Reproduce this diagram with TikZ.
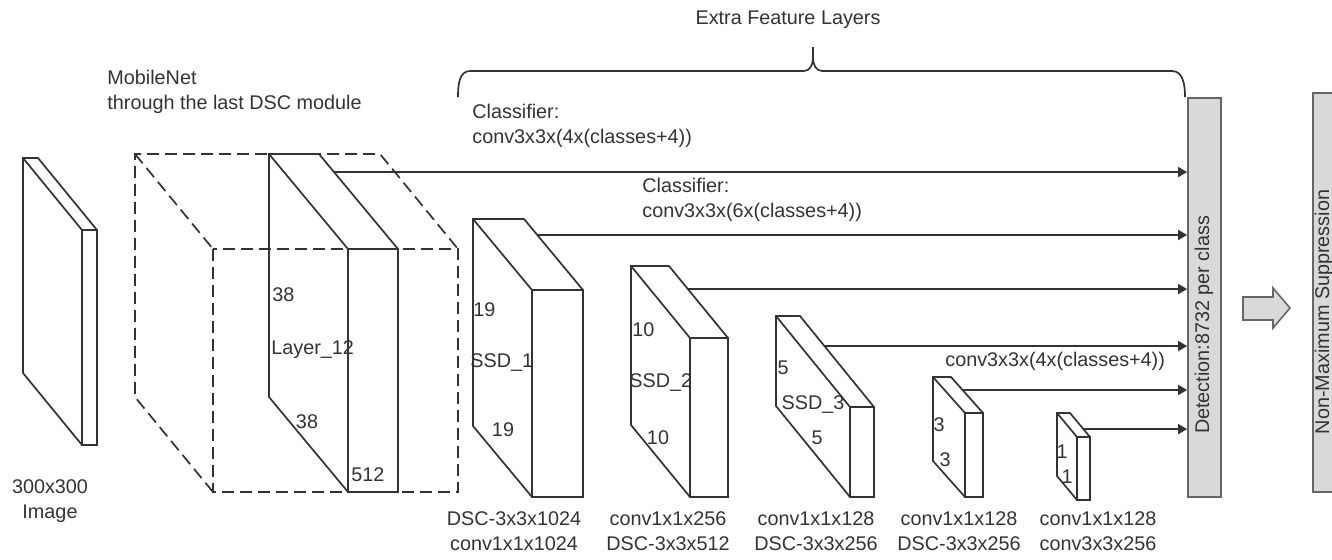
\documentclass[tikz,border=0pt]{standalone}
\usepackage{fontspec}
\setmainfont{Liberation Sans}
\usetikzlibrary{arrows.meta,calc}
\definecolor{ink}{HTML}{333333}
\definecolor{panel}{HTML}{D9D9D9}
\definecolor{rim}{HTML}{666666}
% feature map as a slab: name, style, front top-left x/y, front bottom-right x/y, depth dx/dy
\newcommand{\featmap}[8]{%
  \coordinate (#1-ftl) at (#3,#4);
  \coordinate (#1-ftr) at (#5,#4);
  \coordinate (#1-fbl) at (#3,#6);
  \coordinate (#1-fbr) at (#5,#6);
  \coordinate (#1-btl) at ({#3+(#7)},{#4+(#8)});
  \coordinate (#1-btr) at ({#5+(#7)},{#4+(#8)});
  \coordinate (#1-bbl) at ({#3+(#7)},{#6+(#8)});
  \draw[#2] (#1-ftl) rectangle (#1-fbr);
  \draw[#2] (#1-fbl) -- (#1-bbl) -- (#1-btl) -- (#1-btr) -- (#1-ftr);
  \draw[#2] (#1-btl) -- (#1-ftl);
}
\begin{document}
\begin{tikzpicture}[
  x=0.5pt, y=-0.5pt,
  font=\fontsize{9.9}{12.5}\selectfont,
  every node/.style={text=ink},
  edge/.style={draw=ink, line width=0.85pt},
  ghost/.style={edge, dash pattern=on 6pt off 3pt},
  lbl/.style={inner sep=0pt, anchor=west},
  num/.style={inner sep=0pt},
  caption/.style={inner sep=0pt, align=center},
  feed/.style={draw=ink, line width=0.85pt, -{Triangle[length=4.5pt,width=5pt]}},
  column/.style={draw=rim, fill=panel, line width=0.9pt, minimum width=16.5pt, minimum height=199.5pt, inner sep=0pt},
  bigarrow/.style={draw=rim, fill=panel, line width=0.8pt},
  brace/.style={draw=ink, line width=0.85pt}
]
\useasboundingbox (0,0) rectangle (1332,559);
\clip (0,0) rectangle (1332,559);

% input image
\featmap{img}{edge}{82}{230}{97}{445}{-59}{-72}
\node[caption] (imgcap) at (50,501) {300x300\\Image};

% MobileNet backbone
\featmap{mnet}{ghost}{213}{249}{458}{492}{-78}{-95}
\node[lbl, align=left] (mnetcap) at (107,92) {MobileNet\\through the last DSC module};

\featmap{l12}{edge}{348}{249}{398}{492}{-79}{-95}
\node[lbl] (l12-h) at (272,295) {38};
\node[lbl] (l12-name) at (271,350) {Layer\_12};
\node[num] (l12-w) at (307,422) {38};
\node[lbl] (l12-c) at (351,475) {512};

% extra feature layers
\featmap{ssd1}{edge}{532}{290}{583}{497}{-59}{-71}
\node[lbl] (ssd1-h) at (473,310) {19};
\node[lbl] (ssd1-name) at (470,363) {SSD\_1};
\node[num] (ssd1-w) at (503,430) {19};
\node[caption] (ssd1-cap) at (514,531) {DSC-3x3x1024\\conv1x1x1024};

\featmap{ssd2}{edge}{690}{338}{728}{497}{-59}{-72}
\node[lbl] (ssd2-h) at (632,330) {10};
\node[lbl] (ssd2-name) at (629,383) {SSD\_2};
\node[num] (ssd2-w) at (658,438) {10};
\node[caption] (ssd2-cap) at (668,531) {conv1x1x256\\DSC-3x3x512};

\featmap{ssd3}{edge}{850}{407}{874}{497}{-74}{-91}
\node[num] (ssd3-h) at (783,368) {5};
\node[num] (ssd3-name) at (813,405) {SSD\_3};
\node[num] (ssd3-w) at (817,438) {5};
\node[caption] (ssd3-cap) at (816,531) {conv1x1x128\\DSC-3x3x256};

\featmap{ssd4}{edge}{965}{413}{983}{497}{-32}{-36}
\node[num] (ssd4-h) at (939,425) {3};
\node[num] (ssd4-w) at (945,460) {3};
\node[caption] (ssd4-cap) at (959,531) {conv1x1x128\\DSC-3x3x256};

\featmap{ssd5}{edge}{1077}{437}{1090}{500}{-20}{-24}
\node[num] (ssd5-h) at (1062,452) {1};
\node[num] (ssd5-w) at (1067,477) {1};
\node[caption] (ssd5-cap) at (1098,531) {conv1x1x128\\conv3x3x256};

% detection and NMS
\node[column] (det) at (1204.5,297.5) {};
\node[rotate=90, inner sep=0pt] (det-text) at (1204,325) {Detection:8732 per class};
\draw[bigarrow] (1243,297) -- (1273,297) -- (1273,288) -- (1290,308)
  -- (1273,328) -- (1273,320) -- (1243,320) -- cycle;
\node[column, minimum width=17pt] (nms) at (1330,292.5) {};
\node[rotate=90, inner sep=0pt] (nms-text) at (1324,312) {Non-Maximum Suppression};

% classifiers
\foreach \m/\t in {l12/0.19, ssd1/0.225, ssd2/0.32, ssd3/0.33, ssd4/0.36, ssd5/0.67} {
  \coordinate (\m-out) at ($(\m-btr)!\t!(\m-ftr)$);
  \draw[feed] (\m-out) -- (\m-out -| det.west);
}
\node[lbl, align=left] (cls1) at (472,126) {Classifier:\\conv3x3x(4x(classes+4))};
\node[lbl, align=left] (cls2) at (642,200) {Classifier:\\conv3x3x(6x(classes+4))};
\node[lbl] (cls3) at (945,361) {conv3x3x(4x(classes+4))};

% brace over the extra layers
\node[inner sep=0pt] (extra) at (788,20) {Extra Feature Layers};
\draw[brace] (458,97) to[out=90,in=180] (470,71) -- (804,71) to[out=0,in=-90] (813,58) -- (813,47);
\draw[brace] (813,58) to[out=-90,in=180] (822,71) -- (1172,71) to[out=0,in=90] (1185,97);
\end{tikzpicture}
\end{document}
